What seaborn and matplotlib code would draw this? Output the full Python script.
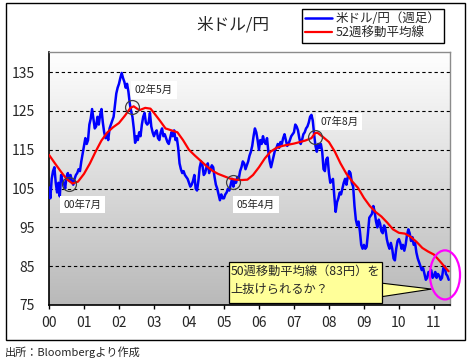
import numpy as np
import pandas as pd
import matplotlib
matplotlib.use("Agg")
import matplotlib.pyplot as plt
import matplotlib.patches as mpatches
from matplotlib.colors import LinearSegmentedColormap
import seaborn as sns

# weekly USD/JPY at roughly 2-week steps (26 per year)
usdjpy = {
    2000: [105.3, 102.5, 107.5, 109.5, 110.5, 106.5, 104, 106.5, 103, 108.5, 107, 106.5, 105,
           108, 109, 107, 108.5, 107, 106, 107.5, 108.5, 109, 110, 109.5, 112, 114],
    2001: [116, 118, 116.5, 117.5, 121.5, 123, 125.5, 123, 120.5, 121, 123.5, 121.5, 124,
           125.5, 122, 119.5, 118, 119, 117.5, 120.5, 121.5, 122.5, 123.5, 126.5, 129.5, 131],
    2002: [132, 133.5, 134.8, 133.5, 132.5, 131, 132, 130, 127, 125, 123.5, 120.5, 116.8,
           118.5, 117.5, 119.5, 118.5, 121.5, 123.5, 124.5, 122, 121.5, 122, 124.5, 121, 119.5],
    2003: [118.5, 119.5, 120, 118, 117.5, 119.5, 120.5, 118.5, 119, 118, 117, 116.5, 118,
           119.5, 118.5, 120, 117.5, 118, 115.5, 111.5, 110, 109, 109.5, 108.5, 108, 107.5],
    2004: [106.5, 105.5, 106, 107, 108.5, 105, 104.5, 107, 110.5, 112, 111, 108.5, 109,
           110.5, 111.5, 109, 110, 111, 110.5, 108, 106, 105, 103.5, 102, 103.5, 102.5],
    2005: [102.5, 103.5, 104, 105, 104.5, 106, 107.5, 105.5, 107, 106.5, 108, 107.5, 109.5,
           110.5, 112, 111.5, 110, 111, 112, 113.5, 114.5, 116, 118.5, 120.5, 119.5, 117.5],
    2006: [115, 117.5, 116.5, 118.5, 117, 116.5, 118, 114.5, 112, 110.5, 112, 113.5, 115,
           115.5, 116.5, 115.5, 117, 116.5, 118, 119, 117.5, 116, 116.5, 117.5, 118.5, 119],
    2007: [119.5, 121.5, 121, 120, 118, 116.5, 117.5, 119, 119.5, 120.5, 121, 122, 123.5,
           124, 122.5, 119, 116, 114.5, 116.5, 115.5, 116.5, 114.5, 110, 109.5, 112.5, 113],
    2008: [109, 106.5, 107, 107.5, 103, 99, 101.5, 102.5, 104, 103.5, 105, 106.5, 107.5,
           106, 108, 109.5, 109, 106.5, 105.5, 100.5, 97, 95.5, 96.5, 94, 90.5, 89.5],
    2009: [90.5, 89.5, 90, 93.5, 97.5, 98, 98.5, 100.5, 99, 96.5, 95, 97, 96,
           94, 93.5, 95.5, 94.5, 92, 90.5, 89.5, 91, 89.5, 87, 86.5, 89.5, 91.5],
    2010: [92, 91, 89.5, 90.5, 89, 90.5, 93, 94.5, 93.5, 91.5, 92.5, 90.5, 91,
           88.5, 87, 86, 85, 84, 84.5, 83, 81.5, 82, 83.5, 83.5, 84, 82],
    2011: [82.5, 83.5, 82, 83, 82.5, 81.5, 82, 84.5, 85, 83, 82.5, 81.5],
}

# 52-week moving average
ma_years = [2000.0, 2000.17, 2000.33, 2000.5, 2000.67, 2000.83, 2001.0, 2001.17, 2001.33,
            2001.5, 2001.67, 2001.83, 2002.0, 2002.17, 2002.33, 2002.42, 2002.58, 2002.75,
            2002.9, 2003.0, 2003.17, 2003.33, 2003.5, 2003.67, 2003.83, 2004.0, 2004.17,
            2004.33, 2004.5, 2004.67, 2004.83, 2005.0, 2005.17, 2005.33, 2005.5, 2005.67,
            2005.83, 2006.0, 2006.17, 2006.33, 2006.5, 2006.67, 2006.83, 2007.0, 2007.17,
            2007.33, 2007.5, 2007.6, 2007.67, 2007.83, 2008.0, 2008.17, 2008.33, 2008.5,
            2008.67, 2008.83, 2009.0, 2009.17, 2009.33, 2009.5, 2009.67, 2009.83, 2010.0,
            2010.17, 2010.33, 2010.5, 2010.67, 2010.83, 2011.0, 2011.17, 2011.33, 2011.42]
ma_values = [113.7, 111.5, 109.5, 107.5, 106.3, 106.8, 108.8, 111.5, 114.5,
             117.4, 119.5, 120.8, 121.9, 123.8, 125.8, 126.2, 125.2, 125.8,
             125.6, 124.5, 122.5, 120.5, 120.0, 119.5, 117.5, 115.0, 113.5,
             112.2, 110.8, 109.6, 108.8, 108.2, 107.6, 107.3, 107.2, 107.3,
             108.5, 110.5, 112.8, 114.5, 115.5, 116.0, 116.3, 116.6, 117.0,
             117.4, 118.0, 119.3, 119.4, 118.3, 117.0, 114.5, 111.5, 108.8,
             106.8, 105.2, 102.6, 100.5, 99.0, 97.8, 96.2, 94.5, 93.6,
             93.4, 92.6, 91.3, 89.7, 88.8, 88.0, 86.3, 84.6, 83.7]

year_ticks = list(range(2000, 2012))
year_labels = ["%02d" % (y % 100) for y in year_ticks]
y_ticks = [75, 85, 95, 105, 115, 125, 135]

# circled turning points and their labels
marks = [(2000.58, 106.3), (2002.38, 126.0), (2005.27, 106.6), (2007.6, 118.4)]
mark_labels = ["00年7月", "02年5月", "05年4月", "07年8月"]
label_pos = [(2000.96, 100.9), (2003.0, 130.4), (2005.91, 100.9), (2008.29, 122.3)]

weekly = pd.DataFrame({
    "year": [y + k / 26 for y in usdjpy for k in range(len(usdjpy[y]))],
    "rate": [v for y in usdjpy for v in usdjpy[y]],
})
ma = pd.DataFrame({"year": ma_years, "rate": ma_values})

sns.set_style("white")
plt.rcParams["font.family"] = ["Noto Sans CJK JP", "DejaVu Sans"]

fig = plt.figure(figsize=(4.69, 3.64), dpi=100)
ax = fig.add_axes([49 / 469, 1 - 305 / 364, 401 / 469, 253 / 364])

xmin, xmax, ymin, ymax = 2000, 2011.46, 75, 140.2

# grey gradient background
cmap = LinearSegmentedColormap.from_list("bg", ["#ffffff", "#b9b9b9"])
grad = np.linspace(0, 1, 256).reshape(-1, 1)
ax.imshow(grad, extent=[xmin, xmax, ymin, ymax], aspect="auto", cmap=cmap,
          origin="upper", zorder=0)

for v in y_ticks[1:]:
    ax.axhline(v, color="black", lw=0.8, ls=(0, (3, 2.5)), zorder=1)

sns.lineplot(data=weekly, x="year", y="rate", ax=ax, color="#0000ff", lw=1.8,
             label="米ドル/円（週足）", zorder=3)
sns.lineplot(data=ma, x="year", y="rate", ax=ax, color="#ff0000", lw=1.6,
             label="52週移動平均線", zorder=4)

ax.set_xlim(xmin, xmax)
ax.set_ylim(ymin, ymax)
ax.set_xticks(year_ticks)
ax.set_xticklabels(year_labels, fontsize=10)
ax.set_yticks(y_ticks)
ax.set_yticklabels([str(v) for v in y_ticks], fontsize=10)
ax.tick_params(axis="x", direction="out", length=3, width=1, color="black", pad=5,
               bottom=True)
ax.tick_params(axis="y", length=0, pad=10)
ax.set_xlabel("")
ax.set_ylabel("")
for side in ["left", "bottom"]:
    ax.spines[side].set_color("black")
    ax.spines[side].set_linewidth(1.2)
for side in ["top", "right"]:
    ax.spines[side].set_color("#8c8c8c")
    ax.spines[side].set_linewidth(1)

# circles + date labels
for (mx, my), txt, (tx, ty) in zip(marks, mark_labels, label_pos):
    ax.plot(mx, my, marker="o", ms=10, mfc="none", mec="#404040", mew=0.9, zorder=5)
    ax.text(tx, ty, txt, fontsize=7.5, ha="center", va="center", zorder=6,
            bbox=dict(boxstyle="square,pad=0.35", fc="white", ec="none"))

# yellow callout
pointer = mpatches.Polygon([(0.826, 0.087), (0.954, 0.063), (0.826, 0.032)], closed=True,
                           fc="#ffff99", ec="black", lw=0.8, transform=ax.transAxes,
                           zorder=6)
ax.add_patch(pointer)
box = mpatches.Rectangle((0.449, 0.008), 0.381, 0.162, fc="#ffff99", ec="black", lw=0.9,
                         transform=ax.transAxes, zorder=7)
ax.add_patch(box)
ax.text(0.453, 0.16, "50週移動平均線（83円）を\n上抜けられるか？", transform=ax.transAxes,
        fontsize=8.8, ha="left", va="top", linespacing=1.5, zorder=8)

ell = mpatches.Ellipse((0.9875, 0.119), 0.075, 0.194, fill=False, ec="#ff00ff", lw=1.6,
                       transform=ax.transAxes, clip_on=False, zorder=9)
ax.add_patch(ell)

leg = ax.legend(loc="upper right", bbox_to_anchor=(444 / 469, 1 - 9 / 364),
                bbox_transform=fig.transFigure, fontsize=9, frameon=True,
                fancybox=False, edgecolor="black", framealpha=1, borderpad=0.25,
                handlelength=2.2, handletextpad=0.3, labelspacing=0.1,
                borderaxespad=0)
leg.get_frame().set_linewidth(1)

fig.text(0.497, 1 - 25 / 364, "米ドル/円", fontsize=12, ha="center", va="center")
fig.text(5 / 469, 1 - 352 / 364, "出所：Bloombergより作成", fontsize=8, ha="left",
         va="center")

frame = mpatches.Rectangle((6 / 469, 1 - 340 / 364), 459 / 469, 337 / 364, fill=False,
                           ec="black", lw=1, transform=fig.transFigure)
fig.patches.append(frame)

plt.savefig("out.png", dpi=100)
plt.close()
